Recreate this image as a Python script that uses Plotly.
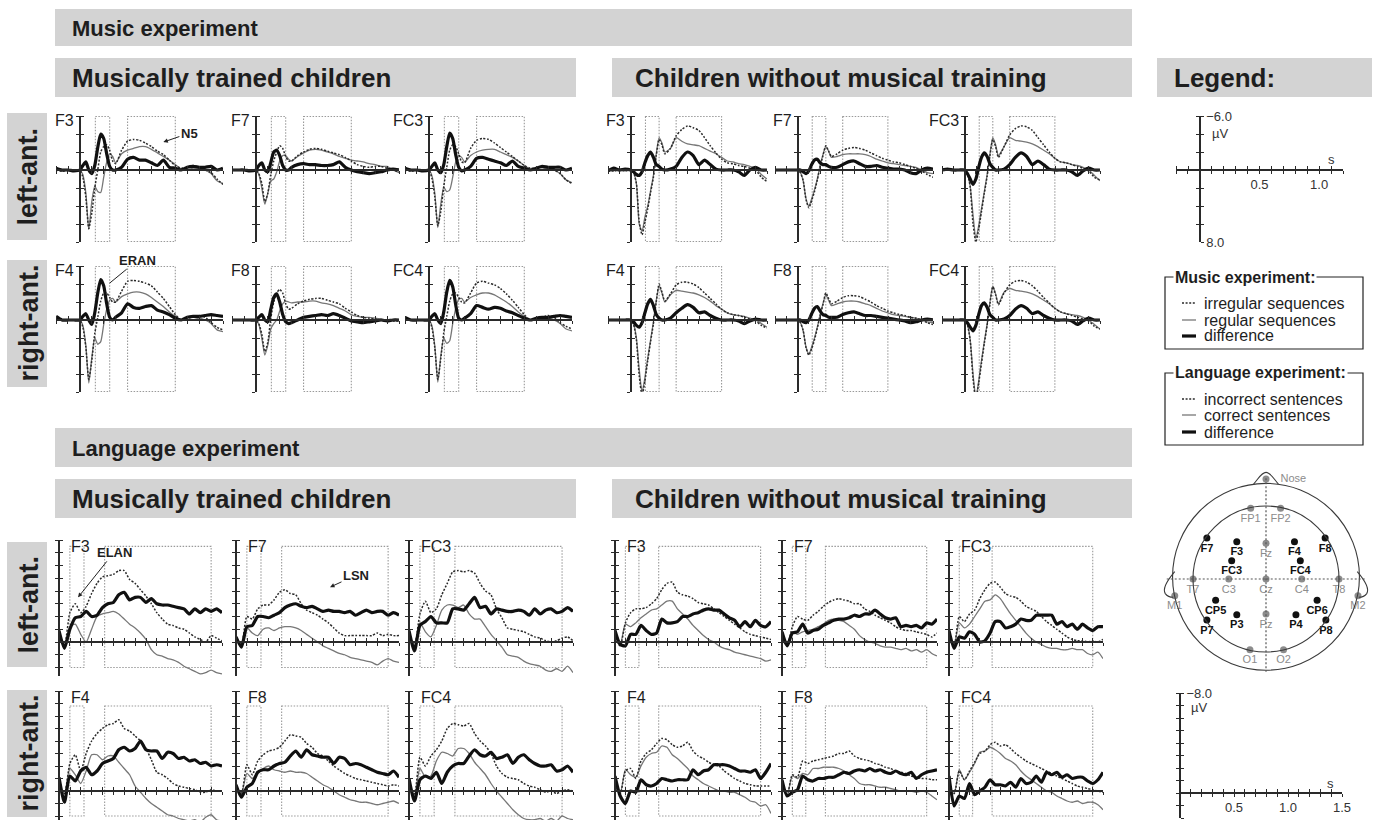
import plotly.graph_objects as go

W, H = 1376, 820
FONT = "Liberation Sans, Arial, Helvetica, sans-serif"
INK = "#1e1e1e"
AXC = "#2a2a2a"
BANNER = "#d3d3d3"
C_DOT = "#2a2a2a"
C_THIN = "#777777"
C_THICK = "#101010"
C_WIN = "#9a9a9a"
C_GRAYEL = "#8c8c8c"

# ------------------------------------------------------------------ data
T_MUS = [-0.2, -0.15, -0.1, -0.05, 0.0,
         0.025, 0.05, 0.075, 0.1, 0.125,
         0.15, 0.175, 0.2, 0.225, 0.25,
         0.275, 0.3, 0.35, 0.4, 0.45,
         0.5, 0.55, 0.6, 0.65, 0.7,
         0.75, 0.8, 0.85, 0.9, 0.95,
         1.0, 1.05, 1.1, 1.15, 1.2]
T_LANG = [0.0, 0.05, 0.1, 0.15, 0.2,
          0.25, 0.3, 0.35, 0.4, 0.45,
          0.5, 0.55, 0.6, 0.65, 0.7,
          0.75, 0.8, 0.85, 0.9, 0.95,
          1.0, 1.05, 1.1, 1.15, 1.2,
          1.25, 1.3, 1.35, 1.4, 1.45,
          1.5]

MUS_X_TICKS = [-0.2, -0.1, 0.0, 0.1, 0.2, 0.3, 0.4, 0.5, 0.6, 0.7, 0.8, 0.9, 1.0, 1.1, 1.2]
MUS_Y_TICKS = [-6, -4, -2, 0, 2, 4, 6, 8]
LANG_X_TICKS = [0.0, 0.1, 0.2, 0.3, 0.4, 0.5, 0.6, 0.7, 0.8, 0.9, 1.0, 1.1, 1.2, 1.3, 1.4, 1.5]
LANG_Y_TICKS = [-8, -7, -6, -5, -4, -3, -2, -1, 0, 1, 2]
MUS_LEG_XLABELS = ["", "", "", "", "", "", "", "0.5", "", "", "", "", "1.0", "", ""]
MUS_LEG_YLABELS = ["\u22126.0", "", "", "", "", "", "", "8.0"]
LANG_LEG_XLABELS = ["", "", "", "", "", "0.5", "", "", "", "", "1.0", "", "", "", "", "1.5"]
LANG_LEG_YLABELS = ["\u22128.0", "", "", "", "", "", "", "", "", "", "2.0"]

MUS_WINDOWS = [(0.13, 0.25), (0.40, 0.80)]
LANG_WINDOWS = [(0.10, 0.23), (0.42, 1.40)]

# ---- music experiment, musically trained children (µV, negative up)
M_TR_F3_IRR = [0, 0.1, 0, 0, 0, 0.8, 3.0, 6.5, 4.8, 2.0, 0.0, -2.0, -2.6, -2.8, -2.2,
               -1.0, -0.7, -2.2, -3.2, -3.4, -3.3, -3.0, -2.6, -2.1, -1.7, -1.1, -0.5, -0.2, -0.3, -0.5,
               -0.3, 0, 0.3, 1.0, 1.6]
M_TR_F3_REG = [-0.2, 0.1, 0, 0, 0, 0.5, 2.5, 6.6, 3.5, 1.8, 2.4, 2.5, 0.8, -0.9, -1.8,
               -1.5, -0.8, -1.8, -2.2, -2.4, -2.6, -2.6, -2.3, -1.9, -1.5, -1.1, -0.6, -0.1, 0, -0.2,
               -0.2, 0, 0.4, 1.2, 1.5]
M_TR_F3_DIF = [-0.2, 0, 0, 0.1, 0, -0.5, -0.9, 0, 0.4, -0.5, -2.5, -4.0, -3.5, -1.8, -0.4,
               0, 0, -0.3, -1.2, -1.4, -1.1, -1.1, -0.8, -0.5, -1.1, -0.3, -0.2, 0, -0.3, -0.4,
               -0.3, -0.3, -0.4, 0, -0.2]
M_TR_F7_IRR = [0, 0, 0, 0, 0, 0.4, 1.5, 3.5, 2.6, 0.5, -1.0, -2.0, -2.7, -2.4, -1.5,
               -1.0, -1.0, -1.6, -2.0, -2.3, -2.4, -2.3, -2.1, -1.9, -1.7, -1.4, -1.0, -0.6, -0.4, -0.3,
               -0.4, -0.4, -0.2, 0, 0.2]
M_TR_F7_REG = [0, 0, 0, 0, 0, 0.5, 2.0, 3.8, 2.6, 1.2, 1.0, 0.2, -1.0, -1.6, -1.6,
               -1.2, -1.0, -1.5, -1.9, -2.2, -2.3, -2.2, -2.0, -1.8, -1.5, -1.3, -1.1, -1.0, -0.9, -0.7,
               -0.6, -0.4, -0.4, 0, 0.3]
M_TR_F7_DIF = [0, 0, 0, 0.1, 0, -0.5, -0.8, 0, 0.2, -0.8, -2.0, -2.2, -1.6, -0.5, 0,
               0, -0.3, -0.6, -0.7, -0.6, -0.6, -0.5, -0.5, -0.6, -0.9, -0.3, 0, 0.2, 0.3, 0.4,
               0.3, 0.2, 0, -0.1, 0]
M_TR_FC3_IRR = [0, 0.1, 0, 0, 0, 0.9, 3.0, 6.2, 4.6, 1.8, -0.3, -2.2, -2.8, -2.6, -1.8,
                -0.9, -0.8, -2.4, -3.3, -3.5, -3.4, -3.0, -2.5, -2.0, -1.5, -1.0, -0.5, -0.2, -0.2, -0.4,
                -0.3, 0, 0.4, 1.1, 1.5]
M_TR_FC3_REG = [-0.1, 0, 0, 0, 0, 0.6, 2.6, 6.4, 3.8, 1.9, 2.4, 2.2, 0.8, -0.9, -1.6,
                -1.4, -0.9, -1.6, -2.0, -2.2, -2.3, -2.3, -2.0, -1.7, -1.4, -1.0, -0.5, -0.1, 0, -0.1,
                -0.2, 0, 0.4, 1.1, 1.4]
M_TR_FC3_DIF = [-0.2, 0, 0, 0.1, 0, -0.4, -0.8, 0, 0.3, -0.6, -2.6, -4.1, -3.5, -1.7, -0.3,
                0.1, 0, -0.4, -1.3, -1.4, -1.2, -1.0, -0.8, -0.5, -1.0, -0.4, -0.2, 0, -0.2, -0.4,
                -0.3, -0.3, -0.3, 0, -0.2]
M_TR_F4_IRR = [0, 0, 0, 0, 0, 0.8, 3.0, 6.6, 4.5, 1.5, -0.3, -2.1, -3.0, -3.0, -2.5,
               -2.0, -2.0, -3.2, -4.3, -4.4, -4.3, -4.1, -3.8, -3.1, -2.4, -1.5, -0.6, 0, -0.2, -0.3,
               -0.5, -0.3, 0.3, 0.8, 1.1]
M_TR_F4_REG = [0, 0, 0, 0, 0, 0.6, 2.8, 7.0, 4.2, 2.0, 2.7, 2.4, 0.5, -1.2, -2.2,
               -2.4, -2.0, -2.6, -2.9, -3.1, -3.1, -2.9, -2.5, -2.0, -1.5, -0.9, -0.4, 0, 0, 0,
               -0.2, 0, 0.4, 1.1, 1.3]
M_TR_F4_DIF = [-0.4, 0, 0, 0, 0, -0.4, -0.7, 0, 0.5, -0.8, -3.0, -4.5, -3.8, -1.8, -0.3,
               0, -0.3, -0.8, -1.8, -1.4, -1.3, -1.5, -1.6, -1.1, -0.9, -0.6, -0.2, 0, -0.3, -0.4,
               -0.4, -0.5, -0.6, -0.5, -0.4]
M_TR_F8_IRR = [0, 0, 0, 0, 0, 0.4, 1.6, 3.5, 2.5, -0.2, -2.0, -3.0, -3.4, -3.0, -1.8,
               -1.2, -1.3, -1.8, -2.1, -2.3, -2.4, -2.4, -2.2, -2.0, -1.8, -1.3, -0.9, -0.5, -0.3, -0.2,
               -0.1, 0, 0, 0.1, 0.1]
M_TR_F8_REG = [0, 0, 0, 0, 0, 0.5, 2.0, 3.9, 2.8, 1.0, 0.4, 0, -1.0, -1.8, -2.1,
               -2.0, -1.9, -2.0, -2.0, -2.1, -2.1, -1.9, -1.8, -1.6, -1.3, -1.0, -0.6, -0.4, -0.3, -0.3,
               -0.2, -0.1, 0, 0, 0]
M_TR_F8_DIF = [0, 0, 0, 0, 0, -0.3, -0.6, 0, 0.2, -1.2, -2.5, -2.9, -2.0, -0.6, 0.2,
               0.4, 0.3, 0, -0.3, -0.4, -0.5, -0.6, -0.5, -0.7, -0.5, -0.2, 0.1, 0.2, 0.3, 0.2,
               0.1, 0, 0.1, 0, 0]
M_TR_FC4_IRR = [0, 0, 0, 0, 0, 0.8, 3.1, 6.6, 4.3, 1.4, -0.4, -2.1, -2.9, -3.0, -2.5,
                -2.0, -1.9, -3.0, -4.1, -4.3, -4.1, -3.9, -3.5, -2.9, -2.2, -1.4, -0.6, 0, -0.2, -0.3,
                -0.5, -0.3, 0.3, 0.7, 1.0]
M_TR_FC4_REG = [0, 0, 0, 0, 0, 0.6, 2.9, 6.9, 4.0, 2.0, 2.6, 2.3, 0.4, -1.3, -2.3,
                -2.4, -2.0, -2.5, -2.8, -3.0, -3.0, -2.8, -2.4, -2.0, -1.5, -0.9, -0.4, 0, 0, -0.1,
                -0.2, 0, 0.4, 1.0, 1.2]
M_TR_FC4_DIF = [-0.3, 0, 0, 0, 0, -0.4, -0.7, 0, 0.4, -0.9, -3.1, -4.4, -3.7, -1.7, -0.2,
                0, -0.2, -0.7, -1.6, -1.4, -1.2, -1.4, -1.3, -1.0, -0.8, -0.5, -0.2, 0, -0.2, -0.3,
                -0.3, -0.4, -0.5, -0.4, -0.3]

# ---- music experiment, children without musical training
M_UN_F3_IRR = [0, 0.1, 0, 0.1, 0, 0.3, 1.5, 5.8, 7.2, 5.8, 4.3, 2.5, 0.8, -1.6, -3.4,
               -2.8, -1.8, -2.4, -3.8, -4.5, -4.9, -4.7, -4.4, -3.6, -2.7, -1.9, -1.2, -0.8, -0.7, -0.5,
               -0.4, -0.2, 0, 0.8, 1.3]
M_UN_F3_REG = [0, 0.1, 0, 0.1, 0, 0.3, 1.5, 6.0, 6.8, 5.2, 4.0, 2.3, 0.6, -1.8, -3.6,
               -3.0, -2.0, -2.4, -3.6, -3.2, -2.9, -2.8, -2.7, -2.4, -2.1, -1.8, -1.4, -1.0, -0.9, -0.7,
               -0.6, -0.4, -0.2, 0.5, 1.0]
M_UN_F3_DIF = [0.1, -0.2, 0, -0.1, 0, 0.2, 0.5, 0.6, 0.2, -0.8, -1.6, -2.0, -1.4, -0.6, -0.4,
               -0.1, 0, -0.1, -0.4, -1.4, -2.0, -1.6, -0.6, -1.1, -0.6, -0.1, 0, 0, 0, 0.2,
               0.6, 0, -0.3, 0, 0]
M_UN_F7_IRR = [0, 0, 0, 0, 0, 0.3, 1.2, 3.3, 4.2, 3.4, 2.4, 1.1, -0.4, -1.6, -2.7,
               -2.1, -1.5, -1.8, -2.2, -2.4, -2.5, -2.4, -2.2, -1.9, -1.6, -1.3, -1.1, -0.9, -0.8, -0.6,
               -0.4, -0.2, 0.1, 0.5, 0.8]
M_UN_F7_REG = [0, 0, 0, 0, 0, 0.3, 1.2, 3.2, 4.0, 3.2, 2.2, 1.0, -0.5, -1.7, -2.6,
               -2.1, -1.4, -1.5, -1.7, -1.8, -1.8, -1.8, -1.7, -1.5, -1.2, -1.0, -0.8, -0.7, -0.6, -0.5,
               -0.4, -0.3, 0, 0.3, 0.4]
M_UN_F7_DIF = [0, 0, 0, 0, 0, 0, 0.2, 0.4, 0.1, -0.6, -1.1, -1.2, -0.8, -0.6, -0.6,
               -0.4, -0.3, -0.3, -0.6, -0.9, -1.0, -0.7, -0.4, -0.4, -0.5, -0.3, -0.2, -0.1, -0.1, 0,
               0.3, 0.4, 0, -0.2, -0.1]
M_UN_FC3_IRR = [0, 0, 0, 0, 0, 0.4, 1.9, 6.0, 8.0, 6.6, 4.6, 2.6, 0.7, -1.6, -3.4,
                -2.6, -1.4, -2.6, -3.9, -4.6, -4.9, -4.8, -4.4, -3.6, -2.8, -2.0, -1.3, -0.9, -0.8, -0.6,
                -0.4, -0.2, 0.1, 0.8, 1.1]
M_UN_FC3_REG = [0, 0, 0, 0, 0, 0.4, 1.8, 5.0, 7.6, 6.2, 4.3, 2.4, 0.5, -1.8, -3.6,
                -2.8, -1.6, -2.6, -3.6, -3.3, -3.2, -3.1, -2.9, -2.6, -2.2, -1.8, -1.3, -0.9, -0.8, -0.6,
                -0.5, -0.3, 0, 0.6, 1.2]
M_UN_FC3_DIF = [0, -0.1, 0, 0, 0, 0.4, 1.0, 1.6, 1.0, -0.3, -1.4, -1.9, -1.5, -0.7, -0.3,
                0, 0, -0.1, -0.6, -1.4, -1.9, -1.5, -0.6, -1.0, -0.6, -0.1, 0, 0, 0, 0.2,
                0.6, 0.1, -0.2, 0, 0]
M_UN_F4_IRR = [0, 0, 0, 0, 0, 0.5, 2.2, 6.2, 8.4, 6.8, 4.5, 2.4, 0.4, -2.0, -4.0,
               -3.1, -2.1, -2.9, -3.9, -4.2, -4.2, -4.0, -3.6, -3.0, -2.4, -1.8, -1.2, -0.8, -0.6, -0.5,
               -0.3, -0.1, 0.1, 0.6, 0.9]
M_UN_F4_REG = [0, 0, 0, 0, 0, 0.4, 2.0, 5.5, 8.0, 6.4, 4.2, 2.2, 0.2, -2.2, -3.8,
               -3.0, -2.0, -2.8, -3.3, -3.2, -3.1, -3.0, -2.8, -2.5, -2.1, -1.6, -1.2, -0.8, -0.6, -0.5,
               -0.4, -0.2, 0, 0.4, 0.8]
M_UN_F4_DIF = [0, 0, 0, 0, 0, 0.2, 0.6, 0.8, 0.3, -0.8, -1.8, -2.3, -1.6, -0.6, -0.2,
               0, 0, -0.2, -0.8, -1.3, -1.7, -1.4, -0.8, -0.9, -0.5, -0.2, 0, 0, 0, 0.1,
               0.4, 0.1, -0.1, 0, 0]
M_UN_F8_IRR = [0, 0, 0, 0, 0, 0.3, 1.2, 3.1, 3.9, 3.2, 2.2, 0.9, -0.5, -1.7, -3.0,
               -2.4, -1.8, -2.1, -2.5, -2.7, -2.7, -2.6, -2.3, -2.0, -1.6, -1.3, -1.0, -0.8, -0.6, -0.5,
               -0.3, -0.2, 0, 0.3, 0.5]
M_UN_F8_REG = [0, 0, 0, 0, 0, 0.3, 1.2, 3.0, 3.8, 3.0, 2.0, 0.8, -0.6, -1.8, -2.8,
               -2.2, -1.6, -1.8, -2.0, -2.1, -2.1, -2.0, -1.8, -1.6, -1.3, -1.0, -0.8, -0.6, -0.5, -0.4,
               -0.3, -0.2, 0, 0.2, 0.3]
M_UN_F8_DIF = [0, 0, 0, 0, 0, 0, 0.2, 0.3, 0, -0.7, -1.3, -1.5, -1.0, -0.6, -0.5,
               -0.3, -0.3, -0.3, -0.6, -0.8, -0.9, -0.7, -0.5, -0.5, -0.4, -0.3, -0.2, -0.1, 0, 0.1,
               0.3, 0.2, 0, -0.1, 0]
M_UN_FC4_IRR = [0, 0, 0, 0, 0, 0.5, 2.3, 6.5, 8.9, 7.0, 4.8, 2.6, 0.6, -1.8, -3.7,
                -2.8, -1.7, -3.0, -3.9, -4.3, -4.4, -4.2, -3.8, -3.2, -2.5, -1.9, -1.3, -0.9, -0.7, -0.5,
                -0.3, -0.1, 0.1, 0.7, 1.0]
M_UN_FC4_REG = [0, 0, 0, 0, 0, 0.5, 2.2, 6.0, 8.6, 6.8, 4.5, 2.4, 0.4, -2.0, -3.8,
                -2.9, -1.8, -3.1, -3.5, -3.3, -3.2, -3.1, -2.9, -2.6, -2.2, -1.8, -1.3, -0.9, -0.7, -0.6,
                -0.5, -0.3, 0, 0.5, 1.0]
M_UN_FC4_DIF = [0, 0, 0, 0, 0, 0.3, 0.8, 1.2, 0.6, -0.6, -1.6, -1.9, -1.4, -0.6, -0.3,
                0, 0, -0.1, -0.5, -1.2, -1.6, -1.3, -0.7, -0.9, -0.5, -0.2, 0, 0, 0, 0.1,
                0.5, 0.1, -0.2, 0, 0]

# ---- language experiment, musically trained children
L_TR_F3_INC = [-0.3, 0.2, -2.3, -3.0, -2.3, -2.8, -3.8, -4.6, -5.1, -5.2,
               -5.3, -5.6, -5.6, -4.9, -4.6, -4.1, -3.6, -3.0, -2.3, -1.8,
               -1.4, -1.3, -1.1, -1.0, -0.7, -0.4, -0.2, 0, -0.5, -0.3, -0.1]
L_TR_F3_COR = [-0.6, 0.2, -1.2, -1.4, -0.6, 0, -1.0, -2.0, -2.2, -2.3,
               -2.4, -2.2, -1.8, -1.4, -1.1, -0.7, -0.2, 0.6, 1.0, 1.1,
               1.3, 1.4, 1.6, 1.9, 2.1, 2.3, 2.5, 2.4, 2.2, 2.4, 2.5]
L_TR_F3_DIF = [-0.9, 0.5, -1.0, -1.9, -2.0, -2.4, -2.0, -2.1, -2.7, -3.0,
               -3.1, -3.7, -3.9, -3.3, -3.5, -3.5, -3.1, -3.4, -3.0, -2.9,
               -2.9, -2.8, -2.7, -2.6, -2.2, -2.6, -2.3, -2.6, -2.4, -2.6, -2.3]
L_TR_F7_INC = [-0.3, 0.3, -2.0, -1.8, -2.6, -2.9, -2.9, -3.3, -3.9, -4.1,
               -3.8, -3.7, -3.0, -2.5, -2.3, -2.1, -1.8, -1.5, -1.1, -0.7,
               -0.5, -0.5, -0.5, -0.5, -0.5, -0.5, -0.7, -0.5, -0.6, -0.5, -0.5]
L_TR_F7_COR = [-0.2, 0.3, -1.1, -0.7, -0.5, -1.0, -1.1, -0.9, -1.1, -1.2,
               -1.2, -1.1, -0.9, -0.6, -0.3, 0, 0.3, 0.5, 0.7, 0.9,
               1.0, 1.2, 1.3, 1.4, 1.5, 1.6, 1.8, 1.5, 1.3, 1.5, 1.6]
L_TR_F7_DIF = [-0.4, 0.4, -1.2, -1.3, -2.0, -2.0, -1.9, -2.1, -2.3, -2.7,
               -2.9, -3.0, -2.8, -2.7, -2.8, -2.6, -2.4, -2.5, -2.4, -2.4,
               -2.3, -2.4, -2.1, -2.3, -2.5, -2.3, -2.4, -2.4, -2.1, -2.3, -2.1]
L_TR_FC3_INC = [-0.5, 0.3, -2.2, -3.2, -2.3, -2.6, -3.7, -4.6, -5.5, -5.6,
                -5.5, -5.6, -5.4, -4.6, -4.0, -3.7, -2.6, -1.9, -1.1, -1.0,
                -0.9, -0.8, -0.6, -0.4, -0.3, -0.1, 0, -0.1, -0.3, -0.4, -0.1]
L_TR_FC3_COR = [-0.6, 0.3, -1.5, -0.8, -0.4, -1.3, -2.5, -2.9, -2.9, -2.7,
                -2.9, -2.2, -1.8, -1.8, -1.2, -0.6, -0.1, 0.4, 1.0, 1.1,
                1.2, 1.5, 1.7, 1.8, 1.9, 2.2, 2.3, 2.1, 2.3, 1.9, 2.4]
L_TR_FC3_DIF = [-0.9, 0.7, -1.3, -1.6, -2.0, -1.5, -1.5, -1.5, -2.6, -2.6,
                -2.5, -3.0, -3.5, -2.7, -2.8, -2.2, -2.6, -2.5, -2.4, -2.4,
                -2.5, -2.4, -2.1, -2.6, -2.2, -2.5, -2.6, -2.3, -2.4, -2.7, -2.4]
L_TR_F4_INC = [-0.3, 0.2, -2.2, -2.9, -1.6, -3.0, -4.0, -4.6, -5.0, -5.3,
               -5.4, -5.7, -5.0, -4.8, -4.4, -4.0, -3.4, -2.5, -1.5, -1.3,
               -1.0, -0.6, -0.4, -0.3, -0.2, -0.1, 0.1, 0.1, -0.1, 0, 0]
L_TR_F4_COR = [-0.4, 0.2, -1.8, -1.3, -0.6, -1.6, -2.9, -2.9, -2.5, -2.8,
               -2.8, -2.3, -1.8, -1.3, -0.4, 0.1, 0.6, 1.0, 1.3, 1.6,
               1.9, 2.0, 2.2, 2.3, 2.4, 2.3, 2.5, 2.1, 1.9, 2.3, 2.4]
L_TR_F4_DIF = [-1.1, 0.9, -1.2, -0.8, -1.6, -1.9, -1.3, -1.6, -2.2, -2.4,
               -2.6, -3.3, -3.5, -3.2, -3.4, -4.0, -3.3, -3.2, -3.2, -2.6,
               -3.1, -3.0, -2.6, -2.7, -2.4, -2.5, -2.2, -2.3, -2.0, -2.1, -2.0]
L_TR_F8_INC = [-0.2, 0.2, -2.1, -1.3, -2.4, -2.9, -3.2, -3.3, -3.5, -4.0,
               -4.5, -4.4, -4.3, -3.8, -3.5, -3.0, -2.8, -2.4, -2.0, -1.7,
               -1.4, -1.2, -1.0, -0.9, -0.8, -0.7, -0.6, -0.5, -0.4, -0.5, -0.4]
L_TR_F8_COR = [-0.3, 0.2, -1.4, -1.0, -1.5, -1.8, -2.0, -1.7, -1.6, -1.5,
               -1.6, -1.5, -1.5, -1.4, -1.1, -0.8, -0.5, -0.3, 0, 0.3,
               0.5, 0.7, 0.8, 0.9, 0.9, 1.0, 1.1, 1.0, 0.9, 0.8, 1.0]
L_TR_F8_DIF = [-0.5, 0.5, -0.3, -0.6, -1.5, -1.7, -1.7, -2.0, -2.2, -2.3,
               -2.8, -3.2, -2.7, -3.3, -2.9, -2.8, -2.7, -2.7, -2.2, -2.7,
               -2.6, -2.1, -2.2, -2.1, -1.9, -1.7, -1.5, -1.4, -1.3, -1.6, -1.1]
L_TR_FC4_INC = [-0.3, 0.2, -2.7, -2.0, -2.8, -3.3, -4.0, -5.0, -5.4, -5.3,
                -5.2, -5.4, -4.6, -4.0, -3.6, -3.0, -2.0, -1.4, -1.1, -1.0,
                -0.9, -0.6, -0.4, -0.3, -0.1, 0.1, 0, 0.2, 0, -0.1, 0]
L_TR_FC4_COR = [-0.4, 0.3, -1.8, -1.1, -1.2, -2.4, -3.1, -3.0, -2.8, -3.4,
                -3.4, -3.0, -2.3, -1.8, -1.3, -0.6, 0, 0.5, 1.0, 1.5,
                1.9, 2.2, 2.3, 2.3, 2.2, 2.4, 2.2, 2.4, 2.0, 2.2, 2.3]
L_TR_FC4_DIF = [-1.0, 0.8, -0.9, -1.2, -1.0, -1.5, -0.6, -1.5, -2.0, -2.2,
                -2.2, -2.8, -3.3, -2.9, -2.8, -3.1, -2.6, -2.7, -2.9, -2.2,
                -2.7, -2.9, -2.5, -2.2, -2.0, -2.0, -2.1, -1.6, -1.7, -2.0, -1.5]

# ---- language experiment, children without musical training
L_UN_F3_INC = [-0.3, 0.3, -1.5, -2.3, -2.6, -2.6, -2.7, -3.0, -3.4, -4.1,
               -4.6, -4.7, -3.9, -3.7, -3.6, -3.4, -3.1, -3.0, -2.9, -2.6,
               -2.3, -2.0, -1.7, -1.4, -1.1, -0.8, -0.6, -0.5, -0.4, -0.3, -0.2]
L_UN_F3_COR = [-0.4, 0.2, -1.4, -1.2, -1.5, -1.9, -2.2, -2.5, -2.6, -2.9,
               -3.2, -3.2, -2.6, -2.2, -1.8, -1.3, -0.9, -0.5, -0.2, 0,
               0.3, 0.5, 0.6, 0.8, 0.9, 1.0, 1.1, 1.2, 1.3, 1.5, 1.4]
L_UN_F3_DIF = [-0.9, 0.2, 0.3, -0.6, -0.6, -1.3, -0.9, -0.6, -0.7, -1.8,
               -1.5, -1.5, -1.6, -2.0, -2.0, -2.2, -2.3, -2.5, -2.6, -2.5,
               -2.5, -2.2, -1.9, -1.7, -1.2, -1.6, -1.2, -1.7, -1.3, -1.2, -1.6]
L_UN_F7_INC = [-0.2, 0.3, -1.2, -2.0, -1.8, -1.7, -2.1, -2.4, -2.8, -3.1,
               -3.3, -3.4, -3.3, -3.2, -3.0, -3.0, -2.6, -2.4, -2.1, -1.9,
               -1.7, -1.5, -1.2, -1.0, -0.9, -0.9, -0.8, -0.7, -0.6, -0.4, -0.7]
L_UN_F7_COR = [-0.3, 0.3, -0.8, -0.6, -0.8, -0.9, -1.0, -1.2, -1.4, -1.7,
               -1.8, -1.7, -1.6, -1.3, -1.0, -0.5, -0.2, 0, 0.1, 0.3,
               0.4, 0.4, 0.5, 0.6, 0.5, 0.7, 0.6, 0.8, 0.6, 0.9, 1.1]
L_UN_F7_DIF = [-0.8, 0.3, -0.7, -0.8, -1.4, -0.7, -0.9, -1.0, -1.3, -1.5,
               -1.7, -1.8, -1.8, -1.9, -2.1, -2.0, -2.2, -2.2, -2.5, -2.2,
               -1.9, -1.8, -1.9, -1.2, -1.3, -1.2, -1.3, -1.1, -1.5, -1.4, -1.8]
L_UN_FC3_INC = [-0.3, 0.3, -2.0, -1.6, -2.2, -2.5, -3.4, -4.1, -4.6, -4.7,
                -4.3, -3.8, -3.6, -3.5, -3.2, -2.8, -2.6, -2.4, -2.0, -1.6,
                -1.3, -1.0, -0.7, -0.4, -0.2, -0.1, -0.1, 0, -0.1, 0, -0.2]
L_UN_FC3_COR = [-0.4, 0.2, -1.5, -1.1, -1.4, -2.0, -2.6, -3.2, -3.3, -3.7,
                -3.4, -2.8, -2.2, -1.7, -1.2, -0.7, -0.3, 0, 0.2, 0.4,
                0.5, 0.5, 0.6, 0.6, 0.5, 0.6, 0.6, 0.9, 1.0, 0.8, 1.3]
L_UN_FC3_DIF = [-0.9, 0.5, -0.4, -0.3, -0.8, -0.6, 0, -0.1, -0.7, -1.6,
                -1.6, -1.1, -1.2, -1.4, -1.8, -1.7, -1.7, -2.1, -2.1, -2.1,
                -2.1, -1.4, -1.6, -1.2, -1.4, -1.0, -1.4, -1.1, -0.9, -1.2, -1.2]
L_UN_F4_INC = [-0.3, 0.2, -1.6, -1.8, -1.0, -2.4, -3.0, -3.3, -3.8, -4.2,
               -4.1, -3.7, -3.5, -3.6, -3.9, -3.2, -2.8, -2.6, -2.3, -2.1,
               -2.0, -1.6, -1.3, -1.0, -0.8, -0.6, -0.5, -0.4, -0.4, -0.4, -0.4]
L_UN_F4_COR = [-0.3, 0.2, -1.7, -1.3, -1.1, -2.0, -2.7, -3.0, -3.1, -3.6,
               -3.5, -2.9, -2.6, -2.2, -1.8, -1.2, -0.9, -0.6, -0.4, -0.2,
               0, 0, 0.1, 0.1, 0.3, 0.5, 0.8, 0.9, 1.2, 1.1, 1.8]
L_UN_F4_DIF = [-1.2, 0.4, 1.0, 0, 0.1, -0.9, -0.5, -0.4, -0.6, -1.0,
               -0.9, -0.8, -0.9, -0.9, -0.9, -1.7, -1.3, -1.6, -1.7, -2.1,
               -2.1, -2.1, -2.0, -1.8, -1.6, -1.6, -1.5, -1.7, -1.0, -1.5, -2.2]
L_UN_F8_INC = [-0.2, 0.3, -1.3, -1.1, -2.4, -2.2, -2.4, -2.5, -2.6, -2.7,
               -2.8, -3.0, -3.0, -3.2, -2.8, -2.6, -2.5, -2.4, -2.2, -2.1,
               -1.9, -1.8, -1.6, -1.5, -1.4, -1.2, -1.1, -1.0, -1.0, -0.9, -0.9]
L_UN_F8_COR = [-0.3, 0.3, -1.2, -1.0, -1.4, -1.3, -1.8, -1.8, -1.9, -1.9,
               -1.9, -1.8, -1.6, -1.3, -1.0, -0.6, -0.5, -0.5, -0.4, -0.3,
               -0.3, -0.2, -0.1, 0, 0, 0, 0.1, 0, 0.1, 0.4, 0.7]
L_UN_F8_DIF = [-0.9, 0.4, 0.1, -0.1, -1.2, -0.9, -0.8, -1.0, -1.0, -1.1,
               -1.1, -1.3, -1.5, -1.4, -1.6, -1.7, -1.6, -1.8, -1.6, -1.7,
               -1.5, -1.4, -1.6, -1.4, -1.3, -1.5, -1.0, -1.3, -1.5, -1.6, -1.7]
L_UN_FC4_INC = [-0.3, 0.2, -1.6, -0.9, -1.6, -2.3, -3.0, -3.2, -3.7, -3.9,
                -3.6, -3.7, -3.4, -3.0, -2.7, -2.4, -2.2, -2.0, -1.8, -1.6,
                -1.4, -1.2, -1.0, -0.8, -0.6, -0.4, -0.3, -0.2, -0.1, 0, 0.1]
L_UN_FC4_COR = [-0.3, 0.2, -1.7, -0.9, -1.5, -2.2, -3.1, -3.2, -3.5, -3.3,
                -3.0, -2.6, -2.4, -2.1, -1.6, -1.2, -0.9, -0.6, -0.3, 0,
                0.1, 0.4, 0.6, 0.8, 0.9, 0.8, 1.0, 0.9, 0.9, 1.1, 1.5]
L_UN_FC4_DIF = [-1.2, 1.2, 0.4, 0.6, -0.6, 0.3, 0, -0.3, -0.9, -0.5,
                -0.5, -0.4, -0.7, -0.3, -1.0, -0.6, -0.7, -1.2, -0.7, -1.5,
                -1.3, -1.5, -1.1, -1.3, -1.0, -1.1, -1.1, -0.8, -0.6, -0.9, -1.5]

# ---- electrode map (head units: inner circle radius = 1)
EL_BLACK_NAMES = ["F7", "F3", "F4", "F8", "FC3", "FC4", "CP5", "CP6", "P7", "P3", "P4", "P8"]
EL_BLACK_X = [-0.81, -0.40, 0.39, 0.81, -0.47, 0.47, -0.69, 0.70, -0.81, -0.40, 0.41, 0.82]
EL_BLACK_Y = [0.56, 0.51, 0.51, 0.56, 0.25, 0.25, -0.29, -0.29, -0.56, -0.49, -0.49, -0.56]
EL_GRAY_NAMES = ["FP1", "FP2", "Fz", "T7", "C3", "Cz", "C4", "T8", "M1", "M2", "Pz", "O1", "O2"]
EL_GRAY_X = [-0.21, 0.20, 0.0, -1.0, -0.51, 0.0, 0.49, 1.0, -1.25, 1.26, 0.0, -0.22, 0.24]
EL_GRAY_Y = [0.97, 0.97, 0.49, 0.0, 0.0, 0.0, 0.0, 0.0, -0.23, -0.23, -0.48, -0.97, -0.97]
NOSE_POINT = (0.0, 1.37)
HEAD_INNER_R = 1.0
HEAD_OUTER_R = 1.28
HEAD_OUTER_CY = 0.03

LEG_MUS_LABELS = ["irregular sequences", "regular sequences", "difference"]
LEG_LANG_LABELS = ["incorrect sentences", "correct sentences", "difference"]

for arr in [M_TR_F3_IRR, M_TR_F3_REG, M_TR_F3_DIF, M_TR_F7_IRR, M_TR_F7_REG, M_TR_F7_DIF,
            M_TR_FC3_IRR, M_TR_FC3_REG, M_TR_FC3_DIF, M_TR_F4_IRR, M_TR_F4_REG, M_TR_F4_DIF,
            M_TR_F8_IRR, M_TR_F8_REG, M_TR_F8_DIF, M_TR_FC4_IRR, M_TR_FC4_REG, M_TR_FC4_DIF,
            M_UN_F3_IRR, M_UN_F3_REG, M_UN_F3_DIF, M_UN_F7_IRR, M_UN_F7_REG, M_UN_F7_DIF,
            M_UN_FC3_IRR, M_UN_FC3_REG, M_UN_FC3_DIF, M_UN_F4_IRR, M_UN_F4_REG, M_UN_F4_DIF,
            M_UN_F8_IRR, M_UN_F8_REG, M_UN_F8_DIF, M_UN_FC4_IRR, M_UN_FC4_REG, M_UN_FC4_DIF]:
    assert len(arr) == len(T_MUS), len(arr)
for arr in [L_TR_F3_INC, L_TR_F3_COR, L_TR_F3_DIF, L_TR_F7_INC, L_TR_F7_COR, L_TR_F7_DIF,
            L_TR_FC3_INC, L_TR_FC3_COR, L_TR_FC3_DIF, L_TR_F4_INC, L_TR_F4_COR, L_TR_F4_DIF,
            L_TR_F8_INC, L_TR_F8_COR, L_TR_F8_DIF, L_TR_FC4_INC, L_TR_FC4_COR, L_TR_FC4_DIF,
            L_UN_F3_INC, L_UN_F3_COR, L_UN_F3_DIF, L_UN_F7_INC, L_UN_F7_COR, L_UN_F7_DIF,
            L_UN_FC3_INC, L_UN_FC3_COR, L_UN_FC3_DIF, L_UN_F4_INC, L_UN_F4_COR, L_UN_F4_DIF,
            L_UN_F8_INC, L_UN_F8_COR, L_UN_F8_DIF, L_UN_FC4_INC, L_UN_FC4_COR, L_UN_FC4_DIF]:
    assert len(arr) == len(T_LANG), len(arr)

# panel tables built from the arrays: (label, column, row, dotted, thin, thick)
MUS_PANELS = [
    ("F3", 0, 0, M_TR_F3_IRR, M_TR_F3_REG, M_TR_F3_DIF),
    ("F7", 1, 0, M_TR_F7_IRR, M_TR_F7_REG, M_TR_F7_DIF),
    ("FC3", 2, 0, M_TR_FC3_IRR, M_TR_FC3_REG, M_TR_FC3_DIF),
    ("F3", 3, 0, M_UN_F3_IRR, M_UN_F3_REG, M_UN_F3_DIF),
    ("F7", 4, 0, M_UN_F7_IRR, M_UN_F7_REG, M_UN_F7_DIF),
    ("FC3", 5, 0, M_UN_FC3_IRR, M_UN_FC3_REG, M_UN_FC3_DIF),
    ("F4", 0, 1, M_TR_F4_IRR, M_TR_F4_REG, M_TR_F4_DIF),
    ("F8", 1, 1, M_TR_F8_IRR, M_TR_F8_REG, M_TR_F8_DIF),
    ("FC4", 2, 1, M_TR_FC4_IRR, M_TR_FC4_REG, M_TR_FC4_DIF),
    ("F4", 3, 1, M_UN_F4_IRR, M_UN_F4_REG, M_UN_F4_DIF),
    ("F8", 4, 1, M_UN_F8_IRR, M_UN_F8_REG, M_UN_F8_DIF),
    ("FC4", 5, 1, M_UN_FC4_IRR, M_UN_FC4_REG, M_UN_FC4_DIF),
]
LANG_PANELS = [
    ("F3", 0, 0, L_TR_F3_INC, L_TR_F3_COR, L_TR_F3_DIF),
    ("F7", 1, 0, L_TR_F7_INC, L_TR_F7_COR, L_TR_F7_DIF),
    ("FC3", 2, 0, L_TR_FC3_INC, L_TR_FC3_COR, L_TR_FC3_DIF),
    ("F3", 3, 0, L_UN_F3_INC, L_UN_F3_COR, L_UN_F3_DIF),
    ("F7", 4, 0, L_UN_F7_INC, L_UN_F7_COR, L_UN_F7_DIF),
    ("FC3", 5, 0, L_UN_FC3_INC, L_UN_FC3_COR, L_UN_FC3_DIF),
    ("F4", 0, 1, L_TR_F4_INC, L_TR_F4_COR, L_TR_F4_DIF),
    ("F8", 1, 1, L_TR_F8_INC, L_TR_F8_COR, L_TR_F8_DIF),
    ("FC4", 2, 1, L_TR_FC4_INC, L_TR_FC4_COR, L_TR_FC4_DIF),
    ("F4", 3, 1, L_UN_F4_INC, L_UN_F4_COR, L_UN_F4_DIF),
    ("F8", 4, 1, L_UN_F8_INC, L_UN_F8_COR, L_UN_F8_DIF),
    ("FC4", 5, 1, L_UN_FC4_INC, L_UN_FC4_COR, L_UN_FC4_DIF),
]

# ------------------------------------------------------------------ geometry (pixels)
MUS_COLS = [(56, 223), (232, 399), (405, 572), (608, 767), (775, 933), (942, 1100)]
MUS_ROWS = [(116, 242), (266, 392)]
MUS_YRANGE = [8, -6]
MUS_XRANGE = [-0.2, 1.2]
LANG_COLS = [(59, 222), (236, 399), (409, 573), (615, 771), (782, 937), (949, 1103)]
# (top px, zero px, px per µV, lowest value shown, window top value)
LANG_ROWS = [(540, 642, 12.75, 2.7, -7.5), (691, 791, 12.5, 2.32, -6.8)]
LANG_XRANGE = [0.0, 1.5]

fig = go.Figure()
lay = {}
shapes = []
anns = []


def px2x(px):
    return px / W


def px2y(py):
    return 1 - py / H


def axis_style(vals, span):
    eps = span * 1e-3
    return dict(showgrid=False, zeroline=False, showline=True, linecolor=AXC, linewidth=1.6,
                ticks="outside", ticklen=3, tickwidth=1.3, tickcolor=AXC,
                tickmode="array", tickvals=vals, showticklabels=False,
                minor=dict(tickmode="array", tickvals=[v + eps for v in vals], ticks="inside",
                           ticklen=3, tickwidth=1.3, tickcolor=AXC),
                fixedrange=True)


def add_axes(n, xpx, ypx, xr, yr, xt, yt):
    xl, xrt = xpx
    ytp, ybt = ypx
    x0_px = xl + (0 - xr[0]) / (xr[1] - xr[0]) * (xrt - xl)
    y0_px = ybt - (0 - yr[0]) / (yr[1] - yr[0]) * (ybt - ytp)
    sx = "" if n == 1 else str(n)
    xa = axis_style(xt, xr[1] - xr[0])
    xa.update(domain=[px2x(xl), px2x(xrt)], range=xr, anchor="free", position=px2y(y0_px))
    ya = axis_style(yt, abs(yr[1] - yr[0]))
    ya.update(domain=[px2y(ybt), px2y(ytp)], range=yr, anchor="free", position=px2x(x0_px))
    lay["xaxis" + sx] = xa
    lay["yaxis" + sx] = ya
    return "x" + sx, "y" + sx, x0_px, y0_px


def ann(text, x, y, size, color=INK, xanchor="left", yanchor="middle", **kw):
    d = dict(text=text, x=px2x(x), y=px2y(y), xref="paper", yref="paper", showarrow=False,
             xanchor=xanchor, yanchor=yanchor, font=dict(size=size, color=color, family=FONT))
    d.update(kw)
    anns.append(d)


def add_erp(xa, ya, t, dotted, thin, thick):
    fig.add_trace(go.Scatter(x=t, y=thin, xaxis=xa, yaxis=ya, mode="lines", hoverinfo="skip",
                             line=dict(color=C_THIN, width=1.3, shape="spline", smoothing=0.6),
                             showlegend=False))
    fig.add_trace(go.Scatter(x=t, y=dotted, xaxis=xa, yaxis=ya, mode="lines", hoverinfo="skip",
                             line=dict(color=C_DOT, width=1.5, dash="2px,1.6px", shape="spline",
                                       smoothing=0.6), showlegend=False))
    fig.add_trace(go.Scatter(x=t, y=thick, xaxis=xa, yaxis=ya, mode="lines", hoverinfo="skip",
                             line=dict(color=C_THICK, width=3.2, shape="spline", smoothing=0.6),
                             showlegend=False))


def window_rect(xa, ya, a, b, y0, y1):
    shapes.append(dict(type="rect", xref=xa, yref=ya, x0=a, x1=b, y0=y0, y1=y1, layer="below",
                       line=dict(color=C_WIN, width=1.1, dash="1.5px,1.5px"),
                       fillcolor="rgba(0,0,0,0)"))


n = 0
panel_refs = {}
# ---- music panels
for label, col, row, dotted, thin, thick in MUS_PANELS:
    n += 1
    xa, ya, x0p, y0p = add_axes(n, MUS_COLS[col], MUS_ROWS[row], MUS_XRANGE, MUS_YRANGE,
                                MUS_X_TICKS, MUS_Y_TICKS)
    panel_refs[("mus", col, row)] = (xa, ya)
    for a, b in MUS_WINDOWS:
        window_rect(xa, ya, a, b, -5.95, 7.95)
    add_erp(xa, ya, T_MUS, dotted, thin, thick)
    ann(label, x0p - 4, MUS_ROWS[row][0] + 4, 16, xanchor="right")

# ---- language panels
for label, col, row, dotted, thin, thick in LANG_PANELS:
    n += 1
    top, zero, ppu, vbot, wtop = LANG_ROWS[row]
    bottom = zero + vbot * ppu
    yr = [vbot, -(zero - top) / ppu]
    xa, ya, x0p, y0p = add_axes(n, LANG_COLS[col], (top, bottom), LANG_XRANGE, yr,
                                LANG_X_TICKS, LANG_Y_TICKS)
    panel_refs[("lang", col, row)] = (xa, ya)
    for a, b in LANG_WINDOWS:
        window_rect(xa, ya, a, b, wtop, 2.0)
    add_erp(xa, ya, T_LANG, dotted, thin, thick)
    ann(label, x0p + 10, top + 6, 16, xanchor="left")

# ---- legend axes (scale bars)
n += 1
xa, ya, x0p, y0p = add_axes(n, (1176, 1343), (116, 242), MUS_XRANGE, MUS_YRANGE,
                            MUS_X_TICKS, MUS_Y_TICKS)
lay["xaxis%d" % n].update(showticklabels=True, ticktext=MUS_LEG_XLABELS,
                          tickfont=dict(size=13, color="#333", family=FONT))
lay["yaxis%d" % n].update(showticklabels=True, ticktext=MUS_LEG_YLABELS, side="right",
                          tickfont=dict(size=13, color="#333", family=FONT))
fig.add_trace(go.Scatter(x=[], y=[], xaxis=xa, yaxis=ya, showlegend=False))
ann("\u00b5V", 1210, 133, 13, color="#333")
ann("s", 1331, 160, 13, color="#333", xanchor="center")

n += 1
xa, ya, x0p, y0p = add_axes(n, (1180, 1342), (693, 818), LANG_XRANGE, [2, -8],
                            LANG_X_TICKS, LANG_Y_TICKS)
lay["xaxis%d" % n].update(showticklabels=True, ticktext=LANG_LEG_XLABELS,
                          tickfont=dict(size=13, color="#333", family=FONT))
lay["yaxis%d" % n].update(showticklabels=True, ticktext=LANG_LEG_YLABELS, side="right",
                          tickfont=dict(size=13, color="#333", family=FONT))
fig.add_trace(go.Scatter(x=[], y=[], xaxis=xa, yaxis=ya, showlegend=False))
ann("\u00b5V", 1189, 707, 13, color="#333")
ann("s", 1330, 783, 13, color="#333", xanchor="center")

# ---- head diagram
n += 1
hx, hy = "x%d" % n, "y%d" % n
SC = 73.0
CX, CY = 1266, 579
lay["xaxis%d" % n] = dict(domain=[px2x(1150), px2x(1376)], range=[(1150 - CX) / SC, (1376 - CX) / SC],
                          visible=False, fixedrange=True)
lay["yaxis%d" % n] = dict(domain=[px2y(680), px2y(465)], range=[(CY - 680) / SC, (CY - 465) / SC],
                          visible=False, fixedrange=True)
HL = dict(color="#3a3a3a", width=1.1)
shapes.append(dict(type="circle", xref=hx, yref=hy, x0=-HEAD_OUTER_R, x1=HEAD_OUTER_R,
                   y0=HEAD_OUTER_CY - HEAD_OUTER_R, y1=HEAD_OUTER_CY + HEAD_OUTER_R, line=HL))
shapes.append(dict(type="circle", xref=hx, yref=hy, x0=-HEAD_INNER_R, x1=HEAD_INNER_R,
                   y0=-HEAD_INNER_R, y1=HEAD_INNER_R, line=HL))
shapes.append(dict(type="path", xref=hx, yref=hy, line=HL,
                   path="M -0.17,1.30 C -0.10,1.38 -0.06,1.46 0,1.46 C 0.06,1.46 0.10,1.38 0.17,1.30"))
shapes.append(dict(type="path", xref=hx, yref=hy, line=HL,
                   path="M -1.25,0.10 C -1.31,0.03 -1.43,-0.12 -1.38,-0.20 C -1.35,-0.24 -1.30,-0.25 -1.27,-0.25"))
shapes.append(dict(type="path", xref=hx, yref=hy, line=HL,
                   path="M 1.25,0.10 C 1.31,0.03 1.43,-0.12 1.38,-0.20 C 1.35,-0.24 1.30,-0.25 1.27,-0.25"))
DL = dict(color="#555", width=1.2, dash="2px,2px")
shapes.append(dict(type="line", xref=hx, yref=hy, x0=0, x1=0, y0=1.38, y1=-1.27, line=DL))
shapes.append(dict(type="line", xref=hx, yref=hy, x0=-1.36, x1=1.38, y0=0, y1=0, line=DL))

fig.add_trace(go.Scatter(x=EL_GRAY_X, y=EL_GRAY_Y, xaxis=hx, yaxis=hy, mode="markers+text",
                         marker=dict(size=7, color=C_GRAYEL), text=EL_GRAY_NAMES,
                         textposition="bottom center", hoverinfo="skip",
                         textfont=dict(size=11, color=C_GRAYEL, family=FONT), showlegend=False))
fig.add_trace(go.Scatter(x=[NOSE_POINT[0]], y=[NOSE_POINT[1]], xaxis=hx, yaxis=hy,
                         mode="markers+text", marker=dict(size=7, color=C_GRAYEL),
                         text=["   Nose"], textposition="middle right", hoverinfo="skip",
                         textfont=dict(size=11, color=C_GRAYEL, family=FONT), showlegend=False))
fig.add_trace(go.Scatter(x=EL_BLACK_X, y=EL_BLACK_Y, xaxis=hx, yaxis=hy, mode="markers+text",
                         marker=dict(size=7, color="#111"),
                         text=["<b>%s</b>" % s for s in EL_BLACK_NAMES],
                         textposition="bottom center", hoverinfo="skip",
                         textfont=dict(size=11, color="#111", family=FONT), showlegend=False))

# ------------------------------------------------------------------ banners & labels
for x0, x1, y0, y1 in [(55, 1132, 9, 46), (55, 576, 58, 97), (612, 1132, 58, 97),
                       (1157, 1372, 58, 97), (55, 1132, 428, 467), (55, 576, 479, 518),
                       (612, 1132, 479, 518)]:
    shapes.append(dict(type="rect", xref="paper", yref="paper", x0=px2x(x0), x1=px2x(x1),
                       y0=px2y(y1), y1=px2y(y0), fillcolor=BANNER, line=dict(width=0), layer="below"))
ann("<b>Music experiment</b>", 70, 28, 22)
ann("<b>Musically trained children</b>", 70, 78, 26)
ann("<b>Children without musical training</b>", 633, 78, 26)
ann("<b>Legend:</b>", 1172, 78, 26)
ann("<b>Language experiment</b>", 70, 448, 22)
ann("<b>Musically trained children</b>", 70, 499, 26)
ann("<b>Children without musical training</b>", 633, 499, 26)

for y0, y1, txt in [(113, 240, "left-ant."), (260, 387, "right-ant."),
                    (542, 667, "left-ant."), (690, 817, "right-ant.")]:
    shapes.append(dict(type="rect", xref="paper", yref="paper", x0=px2x(7), x1=px2x(47),
                       y0=px2y(y1), y1=px2y(y0), fillcolor=BANNER, line=dict(width=0), layer="below"))
    ann("<b>%s</b>" % txt, 28, (y0 + y1) / 2, 27, xanchor="center", textangle=-90)


# ---- component annotations with arrows
def arrow_ann(text, key, x, y, ax, ay, head):
    xa, ya = panel_refs[key]
    anns.append(dict(text="<b>%s</b>" % text, x=x, y=y, xref=xa, yref=ya, ax=ax, ay=ay,
                     showarrow=True, arrowhead=head, arrowsize=0.9, arrowwidth=1,
                     arrowcolor="#222", standoff=0, font=dict(size=13, color=INK, family=FONT)))


arrow_ann("N5", ("mus", 0, 0), 0.70, -3.1, 26, -9, 2)
arrow_ann("ERAN", ("mus", 0, 1), 0.25, -4.1, 28, -23, 0)
arrow_ann("ELAN", ("lang", 0, 0), 0.175, -3.5, 36, -45, 2)
arrow_ann("LSN", ("lang", 1, 0), 0.865, -4.3, 26, -12, 2)


# ---- legend boxes
def legend_box(title, labels, y_top, y_bot, rows):
    shapes.append(dict(type="rect", xref="paper", yref="paper", x0=px2x(1165), x1=px2x(1363),
                       y0=px2y(y_bot), y1=px2y(y_top), line=dict(color="#222", width=1.2),
                       fillcolor="rgba(0,0,0,0)"))
    ann("<b>%s</b>" % title, 1173, y_top, 16, bgcolor="white", borderpad=1)
    styles = [dict(color=C_DOT, width=1.5, dash="2px,1.6px"), dict(color=C_THIN, width=1.3),
              dict(color=C_THICK, width=3.2)]
    for lab, yy, st in zip(labels, rows, styles):
        shapes.append(dict(type="line", xref="paper", yref="paper", x0=px2x(1182), x1=px2x(1196),
                           y0=px2y(yy), y1=px2y(yy), line=st))
        ann(lab, 1202, yy, 16)


legend_box("Music experiment:", LEG_MUS_LABELS, 277, 349, [303, 320, 336])
legend_box("Language experiment:", LEG_LANG_LABELS, 373, 445, [399, 415, 432])

fig.update_layout(template="none", width=W, height=H, margin=dict(l=0, r=0, t=0, b=0, pad=0),
                  paper_bgcolor="white", plot_bgcolor="rgba(0,0,0,0)", showlegend=False,
                  font=dict(family=FONT, color=INK), shapes=shapes, annotations=anns, **lay)
fig.write_html("out.html", config={"displayModeBar": False},
               post_script="document.body.style.margin='0px';")
